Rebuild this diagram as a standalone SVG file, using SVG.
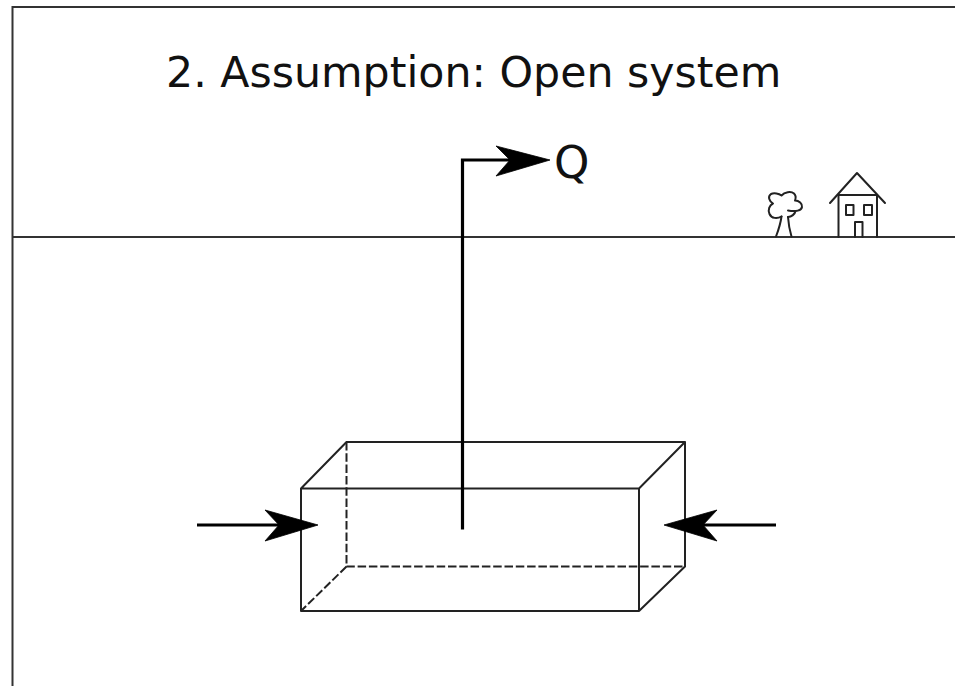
<svg xmlns="http://www.w3.org/2000/svg" width="955" height="686" viewBox="0 0 955 686">
  <style>
    .thin { fill: none; stroke: #222; stroke-width: 2; stroke-linecap: round; stroke-linejoin: round; }
    .dash { fill: none; stroke: #222; stroke-width: 2; stroke-dasharray: 8.5 2.8; }
    .ground { fill: none; stroke: #333; stroke-width: 2; }
    .flow { fill: none; stroke: #000; stroke-width: 3.2; }
    .head { fill: #000; stroke: #000; stroke-width: 0.8; stroke-linejoin: round; }
    .label { font-family: "DejaVu Sans", Verdana, sans-serif; fill: #111; }
  </style>
  <rect width="955" height="686" fill="#fff"/>

  <g id="frame">
    <path class="ground" d="M955 7H12.5V686"/>
  </g>
  <g id="title">
    <text class="label" x="166" y="87" font-size="42.7">2. Assumption: Open system</text>
  </g>
  <g id="ground-line">
    <path class="ground" d="M12 237H955"/>
  </g>

  <g id="tree">
    <path class="thin" d="M776 236.5C778.5 230 780.5 224 781.5 216.5M791.5 236.5C789.5 230 788.5 224 788 217"/>
    <path class="thin" d="M781.5 216.5C777 219 771.5 218.5 769.5 214C767.5 210 769.5 205 773 203.5C769 201 767.5 196.5 771 194C774 192.500 779 193.500 781.5 195.500C784.500 192 791 191 794 193.500C796 195.500 796 198 795 200.500C799 200.500 802.500 203.500 802 207C801.500 210.500 796 212 788 210.500M788 217C791.500 217 795 214 795.500 211"/>
  </g>

  <g id="house">
    <path class="thin" d="M830 203L857 173L885 203"/>
    <path class="thin" d="M838.5 195H876.5M838.5 195V237M877 195V237"/>
    <rect class="thin" x="846" y="205" width="7.5" height="10"/>
    <rect class="thin" x="864" y="205" width="8" height="10"/>
    <path class="thin" d="M855 237V222H862.5V237"/>
  </g>

  <g id="box">
    <path class="dash" d="M346.5 442V566.5H685M346.5 566.5L301 611"/>
    <path class="thin" d="M301 488.5H639V611H301ZM346.5 442H685V566.5L639 611M301 488.5L346.5 442M685 442L639 488.5"/>
  </g>

  <g id="connectors">
    <path class="flow" d="M462.5 529.5V160H512"/>
    <path class="head" d="M550 160L496 146L510 160L496 176Z"/>
    <path class="flow" d="M197 525H281"/>
    <path class="head" d="M318 525L265 510L279 525L265 541Z"/>
    <path class="flow" d="M776 525H701"/>
    <path class="head" d="M664 525L717 510L703 525L717 541Z"/>
  </g>

  <g id="heat-label">
    <text class="label" x="554" y="178" font-size="45">Q</text>
  </g>
</svg>
